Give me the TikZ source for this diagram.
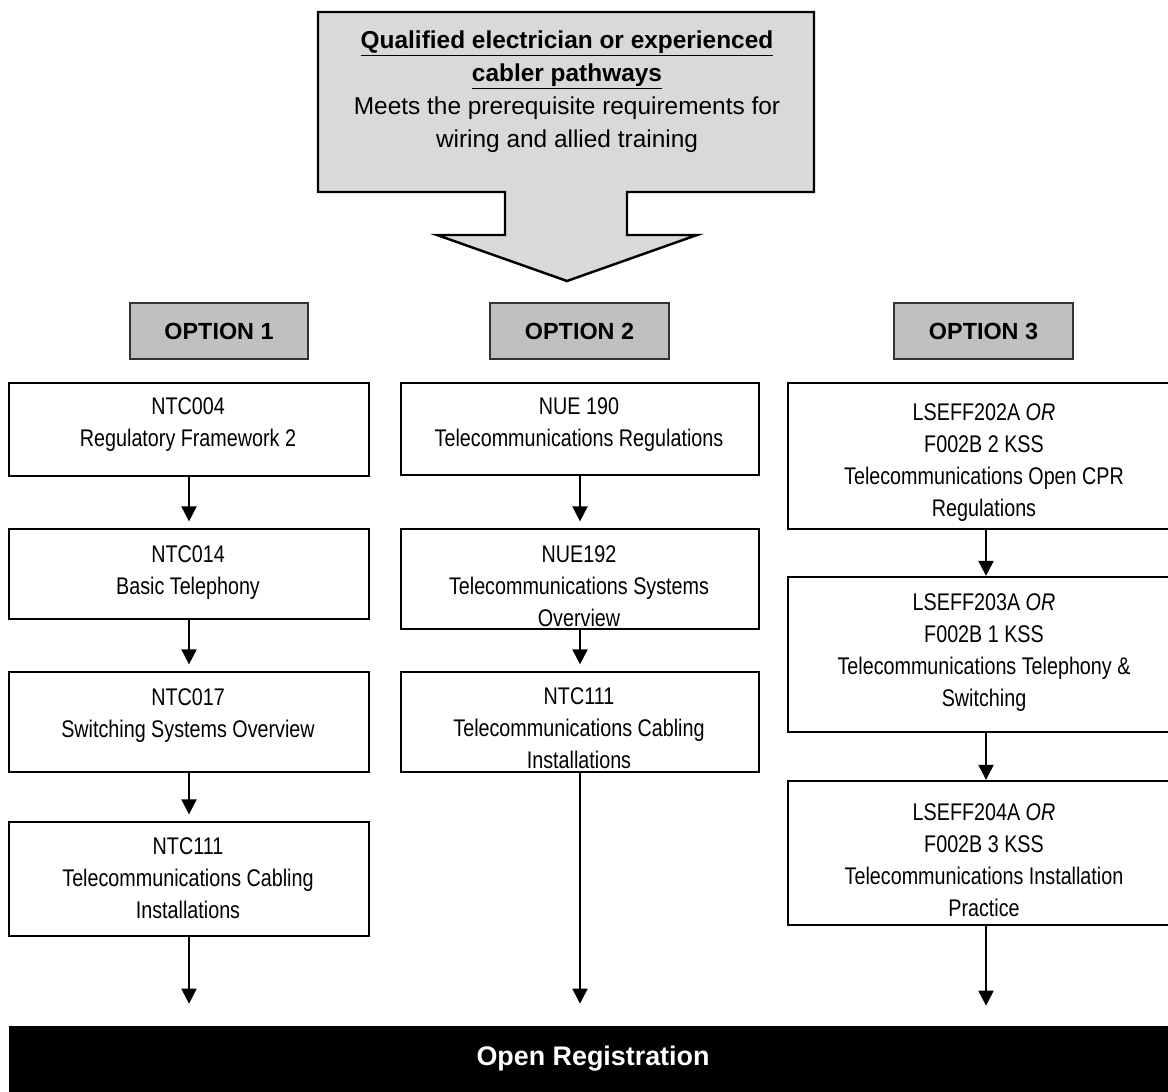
\documentclass[tikz,border=0pt]{standalone}
\usepackage{fontspec}
\setmainfont{Liberation Sans}
\newfontfamily\narrowsans{Liberation Sans}[FakeStretch=0.82]
\usepackage{tikz}
\usetikzlibrary{arrows.meta}
\definecolor{pathgray}{HTML}{D9D9D9}
\definecolor{optgray}{HTML}{C0C0C0}
\definecolor{optline}{HTML}{333333}

\begin{document}
\begin{tikzpicture}[x=0.02cm, y=-0.02cm,
		course/.style={draw, line width=1.3pt, minimum width=7.2cm, inner sep=0pt},
		coursetext/.style={anchor=north, align=center, inner sep=0pt, font=\narrowsans\fontsize{13.7}{18.2}\selectfont},
		optbox/.style={draw=optline, fill=optgray, line width=1.1pt, minimum width=3.57cm, minimum height=1.12cm, font=\bfseries\fontsize{13.3}{15}\selectfont},
		flow/.style={draw, line width=1.1pt, -{Triangle[width=0.3cm, length=0.3cm]}},
		regbar/.style={fill=black, text=white, minimum width=23.36cm, minimum height=1.32cm, font=\bfseries\fontsize{15.3}{18}\selectfont}]
			%%%%% START %%%%%
			\useasboundingbox (0, 0) rectangle (1168, 1091);
			
			% pathway banner with its arrow
			\draw[line width=1.4pt, fill=pathgray] (318, 12) -- (814, 12) -- (814, 192) -- (627, 192) -- (627, 235) -- (697, 235) -- (567, 281) -- (437, 235) -- (505, 235) -- (505, 192) -- (318, 192) -- cycle;
			\node[anchor=north, align=center, inner sep=0pt, font=\fontsize{13.9}{18.8}\selectfont] (path) at (567, 30)
				{\textbf{\underline{Qualified electrician or experienced}}\\\textbf{\underline{cabler pathways}}\\Meets the prerequisite requirements for\\wiring and allied training};
			
			\node[optbox] (opt1) at (219, 331) {OPTION 1};
			\node[optbox] (opt2) at (579.5, 331) {OPTION 2};
			\node[optbox] (opt3) at (983.5, 331) {OPTION 3};
			
			% option 1
			\node[course, minimum height=1.86cm] (o1a) at (189, 429.5) {};
			\node[coursetext] (o1aT) at (188, 397) {NTC004\\Regulatory Framework 2};
			\node[course, minimum height=1.8cm] (o1b) at (189, 574) {};
			\node[coursetext] (o1bT) at (188, 545) {NTC014\\Basic Telephony};
			\node[course, minimum height=2cm] (o1c) at (189, 722) {};
			\node[coursetext] (o1cT) at (188, 688) {NTC017\\Switching Systems Overview};
			\node[course, minimum height=2.28cm] (o1d) at (189, 879) {};
			\node[coursetext] (o1dT) at (188, 837) {NTC111\\Telecommunications Cabling\\Installations};
			
			% option 2
			\node[course, minimum width=7.16cm, minimum height=1.84cm] (o2a) at (580, 429) {};
			\node[coursetext] (o2aT) at (579, 397) {NUE 190\\Telecommunications Regulations};
			\node[course, minimum width=7.16cm, minimum height=2cm] (o2b) at (580, 579) {};
			\node[coursetext] (o2bT) at (579, 545) {NUE192\\Telecommunications Systems\\Overview};
			\node[course, minimum width=7.16cm, minimum height=2cm] (o2c) at (580, 722) {};
			\node[coursetext] (o2cT) at (579, 687) {NTC111\\Telecommunications Cabling\\Installations};
			
			% option 3
			\node[course, minimum width=7.92cm, minimum height=2.92cm] (o3a) at (986, 456) {};
			\node[coursetext] (o3aT) at (984, 403) {LSEFF202A \textit{OR}\\F002B 2 KSS\\Telecommunications Open CPR\\Regulations};
			\node[course, minimum width=7.92cm, minimum height=3.1cm] (o3b) at (986, 654.5) {};
			\node[coursetext] (o3bT) at (984, 593) {LSEFF203A \textit{OR}\\F002B 1 KSS\\Telecommunications Telephony \&\\Switching};
			\node[course, minimum width=7.92cm, minimum height=2.88cm] (o3c) at (986, 853) {};
			\node[coursetext] (o3cT) at (984, 803) {LSEFF204A \textit{OR}\\F002B 3 KSS\\Telecommunications Installation\\Practice};
			
			\node[regbar] (bar) at (593, 1059) {Open Registration};
			
			\draw[flow, shorten >=0.13cm] (o1a) -- (o1b);
			\draw[flow, shorten >=0.13cm] (o1b) -- (o1c);
			\draw[flow, shorten >=0.13cm] (o1c) -- (o1d);
			\draw[flow, shorten >=0.13cm] (o2a) -- (o2b);
			\draw[flow, shorten >=0.13cm] (o2b) -- (o2c);
			\draw[flow] (o3a) -- (o3b);
			\draw[flow] (o3b) -- (o3c);
			
			\draw[flow, shorten >=0.44cm] (o1d) -- (o1d |- bar.north);
			\draw[flow, shorten >=0.44cm] (o2c) -- (o2c |- bar.north);
			\draw[flow, shorten >=0.4cm] (o3c) -- (o3c |- bar.north);
			%%%%% END %%%%%
\end{tikzpicture}
\end{document}
